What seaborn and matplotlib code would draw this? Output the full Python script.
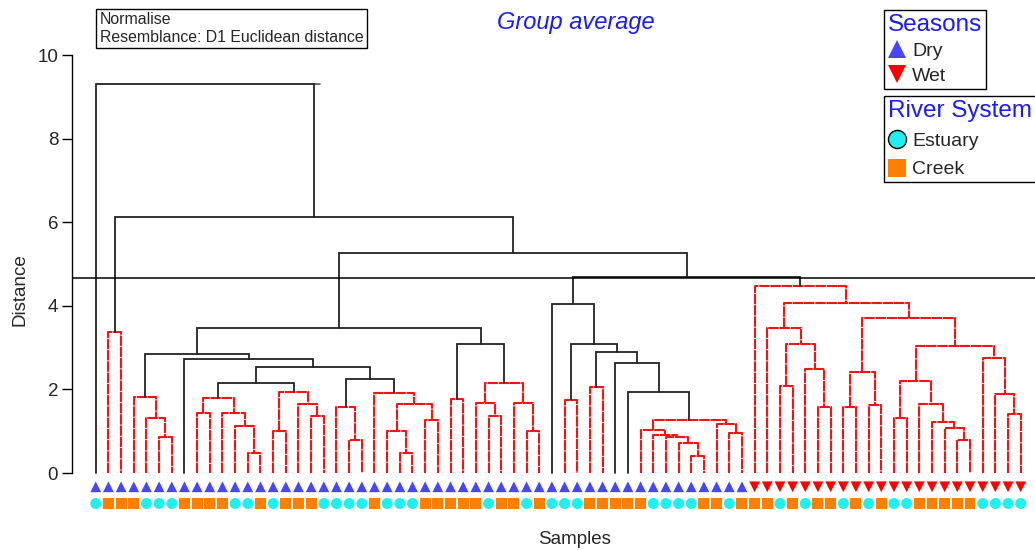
import numpy as np
import pandas as pd
import matplotlib
matplotlib.use("Agg")
import matplotlib.pyplot as plt
import seaborn as sns
from matplotlib.lines import Line2D

# Group average clustering of 74 samples, leaves numbered 0..73 in plot order.
# Each merge: (node name, left child, right child, distance, SIMPROF significant)
DRY_LEFT_MERGES = [
    ("a1", 1, 2, 3.38, False),
    ("b1", 5, 6, 0.87, False),
    ("b2", 4, "b1", 1.32, False),
    ("b3", 3, "b2", 1.83, False),
    ("A1", 12, 13, 0.47, False),
    ("A2", 11, "A1", 1.12, False),
    ("A3", 10, "A2", 1.44, False),
    ("A4", 8, 9, 1.43, False),
    ("A5", "A4", "A3", 1.80, False),
    ("B1", 14, 15, 1.00, False),
    ("B2", 17, 18, 1.37, False),
    ("B3", 16, "B2", 1.64, False),
    ("B4", "B1", "B3", 1.93, False),
    ("AB", "A5", "B4", 2.15, True),
    ("C1", 20, 21, 0.78, False),
    ("C2", 19, "C1", 1.59, False),
    ("D1", 24, 25, 0.49, False),
    ("D2", 23, "D1", 1.00, False),
    ("D3", 26, 27, 1.27, False),
    ("D4", "D2", "D3", 1.65, False),
    ("D5", 22, "D4", 1.91, False),
    ("CD", "C2", "D5", 2.25, True),
    ("ABCD", "AB", "CD", 2.53, True),
    ("g7", 7, "ABCD", 2.72, True),
    ("g3", "b3", "g7", 2.85, True),
    ("E1", 28, 29, 1.77, False),
    ("E2", 31, 32, 1.37, False),
    ("E3", 30, "E2", 1.67, False),
    ("E4", 34, 35, 1.01, False),
    ("E5", 33, "E4", 1.68, False),
    ("E6", "E3", "E5", 2.15, False),
    ("E7", "E1", "E6", 3.09, True),
    ("L", "g3", "E7", 3.48, True),
]

DRY_RIGHT_MERGES = [
    ("R1", 37, 38, 1.75, False),
    ("R2", 39, 40, 2.05, False),
    ("F1", 47, 48, 0.41, False),
    ("F2", 46, "F1", 0.71, False),
    ("F3", 45, "F2", 0.87, False),
    ("F4", 44, "F3", 0.92, False),
    ("F5", 43, "F4", 1.03, False),
    ("F6", 50, 51, 0.95, False),
    ("F7", 49, "F6", 1.18, False),
    ("F8", "F5", "F7", 1.27, False),
    ("R3", 42, "F8", 1.93, True),
    ("R4", 41, "R3", 2.64, True),
    ("R5", "R2", "R4", 2.89, True),
    ("R6", "R1", "R5", 3.09, True),
    ("R7", 36, "R6", 4.04, True),
]

WET_MERGES = [
    ("W1", 54, 55, 2.07, False),
    ("W2", 57, 58, 1.59, False),
    ("W3", 56, "W2", 2.48, False),
    ("W4", "W1", "W3", 3.09, False),
    ("W5", 53, "W4", 3.48, False),
    ("W6", 59, 60, 1.59, False),
    ("W7", 61, 62, 1.62, False),
    ("W8", "W6", "W7", 2.42, False),
    ("W9", 63, 64, 1.31, False),
    ("W10", 68, 69, 0.79, False),
    ("W11", 67, "W10", 1.08, False),
    ("W12", 66, "W11", 1.23, False),
    ("W13", 65, "W12", 1.64, False),
    ("W14", "W9", "W13", 2.21, False),
    ("W15", 72, 73, 1.40, False),
    ("W16", 71, "W15", 1.89, False),
    ("W17", 70, "W16", 2.76, False),
    ("W18", "W14", "W17", 3.04, False),
    ("W19", "W8", "W18", 3.70, False),
    ("W20", "W5", "W19", 4.06, False),
    ("W21", 52, "W20", 4.48, False),
]

TOP_MERGES = [
    ("T1", "R7", "W21", 4.70, True),
    ("T2", "L", "T1", 5.26, True),
    ("T3", "a1", "T2", 6.13, True),
    ("root", 0, "T3", 9.31, True),
]

SEASON = ["Dry"] * 52 + ["Wet"] * 22
# E = Estuary, C = Creek, one letter per leaf
RIVER_CODE = "ECCCEEECCC" "CEECECCCEE" "EECEEECCCC" "CECCECEEEC" "CCCCEEEECC" "ECCCECECCE" "CECEECCCCC" "EEEE"
CUT_HEIGHT = 4.66
Y_TICKS = [0, 2, 4, 6, 8, 10]

RED = "#ff1010"
DARK = "#222222"
SEASON_COLORS = {"Dry": "#4646ff", "Wet": "#ff0000"}
SEASON_MARKERS = {"Dry": "^", "Wet": "v"}
RIVER_COLORS = {"Estuary": "#1ef0f0", "Creek": "#ff8000"}
RIVER_MARKERS = {"Estuary": "o", "Creek": "s"}

sns.set_theme(style="white")
plt.rcParams["font.family"] = ["Liberation Sans", "DejaVu Sans"]

n_leaves = len(SEASON)
river = ["Estuary" if c == "E" else "Creek" for c in RIVER_CODE]
leaves = pd.DataFrame({"leaf": np.arange(n_leaves), "season": SEASON, "river": river})

fig = plt.figure(figsize=(10.35, 5.5), dpi=100)
ax = fig.add_axes([0.0696, 0.064, 0.9304, 0.8587])

# lay out the tree: leaf positions are their indices, nodes sit at the midpoint of children
pos = {i: (float(i), 0.0) for i in range(n_leaves)}
for name, left, right, h, sig in DRY_LEFT_MERGES + DRY_RIGHT_MERGES + WET_MERGES + TOP_MERGES:
    (xl, hl), (xr, hr) = pos[left], pos[right]
    if sig:
        ax.plot([xl, xl, xr, xr], [hl, h, h, hr], color=DARK, lw=1.3, solid_joinstyle="miter")
    else:
        ax.plot([xl, xl, xr, xr], [hl, h, h, hr], color=RED, lw=1.5, ls=(0, (5, 0.4)))
    pos[name] = ((xl + xr) / 2, h)

# PRIMER draws the top bar a touch past its right leg
root_x = pos["T3"][0]
ax.plot([root_x, root_x + 0.5], [pos["root"][1]] * 2, color=DARK, lw=1.3, alpha=0.7)

ax.axhline(CUT_HEIGHT, color="black", lw=1.1)

# sample symbols under the leaves
sns.scatterplot(data=leaves.assign(row=-0.33), x="leaf", y="row", hue="season", style="season",
                palette=SEASON_COLORS, markers=SEASON_MARKERS, s=60, linewidth=0, legend=False, ax=ax)
sns.scatterplot(data=leaves.assign(row=-0.73), x="leaf", y="row", hue="river", style="river",
                palette=RIVER_COLORS, markers=RIVER_MARKERS, s=62, linewidth=0, legend=False, ax=ax)

ax.set_xlim(-1.87, 74.13)
ax.set_ylim(-1.0, 10.3)
ax.set_yticks(Y_TICKS)
ax.set_xticks([])
ax.tick_params(axis="y", left=True, length=7, width=1, labelsize=13.5, pad=3, color="black")
for side in ["top", "right", "bottom"]:
    ax.spines[side].set_visible(False)
ax.spines["left"].set_bounds(0, 10)
ax.spines["left"].set_color("black")
ax.spines["left"].set_linewidth(1)

ax.set_ylabel("Distance", fontsize=13.5)
ax.yaxis.set_label_coords(-0.045, 0.476)
ax.set_xlabel("Samples", fontsize=13.5)
ax.xaxis.set_label_coords(0.522, -0.034)

fig.text(0.5565, 0.96, "Group average", color="#1a1aff", fontsize=17, style="italic",
         ha="center", va="center")
fig.text(0.0965, 0.978, "Normalise\nResemblance: D1 Euclidean distance", fontsize=11.4,
         ha="left", va="top", linespacing=1.2,
         bbox=dict(boxstyle="square,pad=0.22", facecolor="white", edgecolor="black", lw=1))

season_handles = [Line2D([], [], marker=SEASON_MARKERS[k], color=SEASON_COLORS[k], ls="",
                         markersize=13, markeredgewidth=0) for k in SEASON_COLORS]
river_handles = [Line2D([], [], marker="o", color=RIVER_COLORS["Estuary"], ls="", markersize=13,
                        markeredgecolor="black", markeredgewidth=1),
                 Line2D([], [], marker="s", color=RIVER_COLORS["Creek"], ls="", markersize=13,
                        markeredgewidth=0)]

leg_kw = dict(loc="upper left", bbox_transform=fig.transFigure, fontsize=14, title_fontsize=17.5,
              handlelength=0.9, handletextpad=0.35, borderpad=0.2, borderaxespad=0,
              frameon=True, fancybox=False, framealpha=1, edgecolor="black", alignment="left")
leg1 = ax.legend(season_handles, list(SEASON_COLORS), title="Seasons",
                 bbox_to_anchor=(884 / 1035, 1 - 10 / 550), labelspacing=0.35, **leg_kw)
leg1.get_title().set_color("#1a1aff")
leg1.get_frame().set_linewidth(1)
ax.add_artist(leg1)
leg2 = ax.legend(river_handles, list(RIVER_COLORS), title="River System",
                 bbox_to_anchor=(884 / 1035, 1 - 96 / 550), labelspacing=0.55, **leg_kw)
leg2.get_title().set_color("#1a1aff")
leg2.get_frame().set_linewidth(1)

fig.savefig("out.png", dpi=100)
